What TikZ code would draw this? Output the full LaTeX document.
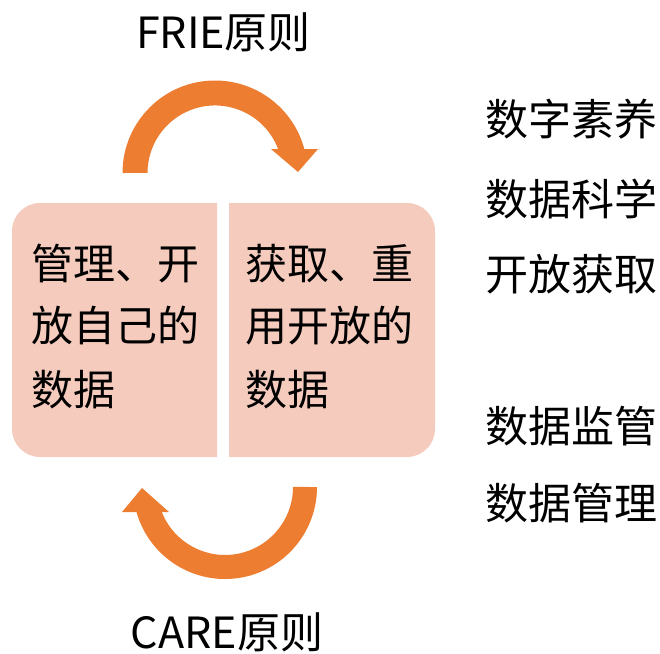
\documentclass[tikz,border=0pt]{standalone}
\usepackage{fontspec}
\setmainfont{Noto Sans CJK SC}
\definecolor{arroworange}{HTML}{ED7D31}
\definecolor{boxfill}{HTML}{F5CBBE}
\begin{document}
\begin{tikzpicture}[x=1pt,y=-1pt,
  lbl/.style={inner sep=0pt, anchor=base, font=\fontsize{43}{43}\selectfont},
  side/.style={inner sep=0pt, anchor=base west, font=\fontsize{43}{43}\selectfont},
  boxtxt/.style={inner sep=0pt, anchor=base west, font=\fontsize{42}{42}\selectfont}]
\useasboundingbox (0,0) rectangle (660,653);
% boxes
\fill[boxfill] (217,203) -- (40,203) arc[start angle=270,end angle=180,radius=28]
  -- (12,429) arc[start angle=180,end angle=90,radius=28] -- (217,457) -- cycle;
\fill[boxfill] (229,203) -- (407,203) arc[start angle=270,end angle=360,radius=28]
  -- (435,429) arc[start angle=0,end angle=90,radius=28] -- (229,457) -- cycle;
% top arrow
\fill[arroworange] (122.5,173) arc[start angle=180,end angle=345,radius=92.5]
  -- (318,149) -- (298,172) -- (271,149) -- (278.1,149)
  arc[start angle=339.2,end angle=180,radius=67.5] -- cycle;
% bottom arrow
\fill[arroworange] (317,487) arc[start angle=0,end angle=164.2,radius=92]
  -- (122,512) -- (142,488) -- (169,512) -- (161.8,512)
  arc[start angle=158.4,end angle=0,radius=68] -- cycle;
% labels
\node[lbl] (frie) at (223.5,48) {FRIE原则};
\node[lbl] (care) at (227,648) {CARE原则};
% box texts
\node[boxtxt] (a1) at (31,279) {管理、开};
\node[boxtxt] (a2) at (31,341) {放自己的};
\node[boxtxt] (a3) at (31,405) {数据};
\node[boxtxt] (b1) at (245,279) {获取、重};
\node[boxtxt] (b2) at (245,341) {用开放的};
\node[boxtxt] (b3) at (245,405) {数据};
% side list
\node[side] (s1) at (485,135) {数字素养};
\node[side] (s2) at (485,215) {数据科学};
\node[side] (s3) at (485,290) {开放获取};
\node[side] (s4) at (485,442) {数据监管};
\node[side] (s5) at (485,519) {数据管理};
\end{tikzpicture}
\end{document}
